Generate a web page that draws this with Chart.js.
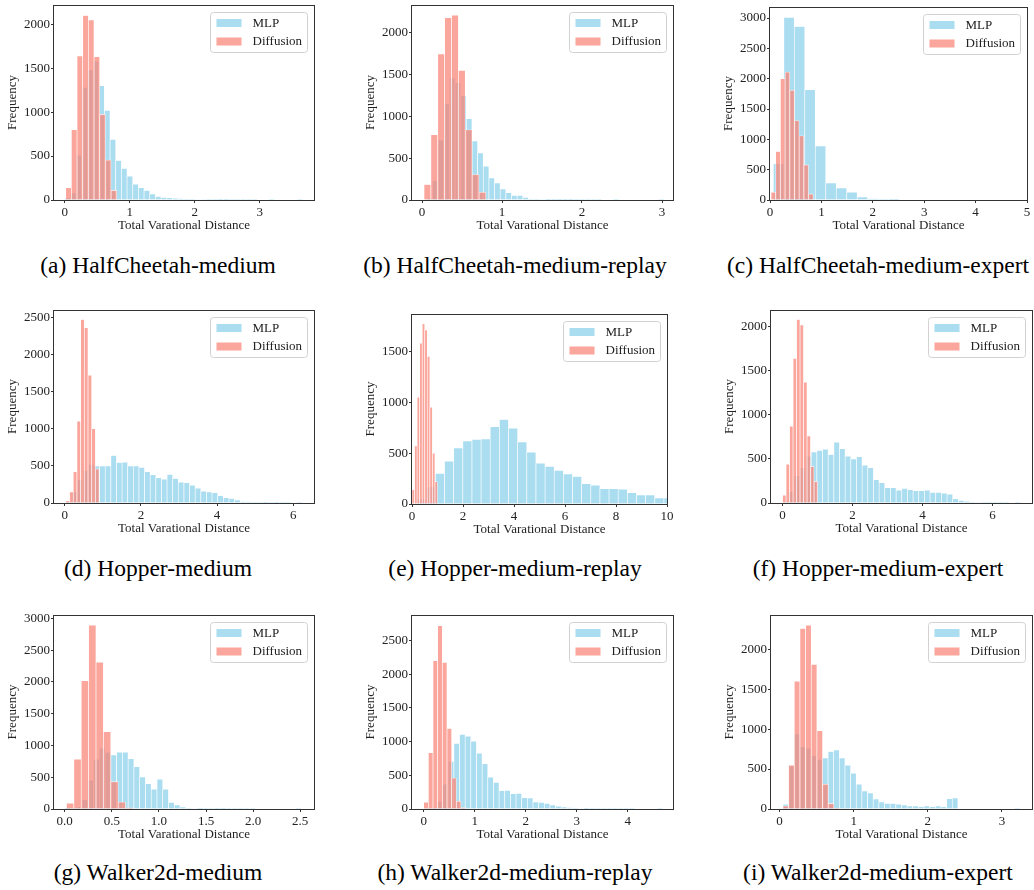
<!DOCTYPE html>
<html>
<head>
<meta charset="utf-8">
<script src="https://cdn.jsdelivr.net/npm/chart.js@4.4.1/dist/chart.umd.min.js"></script>
<style>
  body { margin: 0; background: #fff; width: 1034px; height: 890px; position: relative; overflow: hidden; }
  canvas { position: absolute; }
  .cap { position: absolute; font-family: "Liberation Serif", "Times New Roman", serif; font-size: 23.5px; line-height: 1; color: #000; transform: translateX(-50%); white-space: nowrap; }
</style>
</head>
<body>
<script>
// histogram counts, one array per task and policy
// bins: [first edge, bin width]
const hcMediumMlpBin = [0.0, 0.0872];
const hcMediumMlp = [20, 80, 510, 1280, 1480, 1580, 1300, 1020, 690, 450, 360, 270, 180, 140, 110, 70, 40, 30, 25, 20, 15, 10, 8, 6, 5, 4, 3, 2, 2, 1, 1, 1, 1, 1, 0, 0, 1, 0, 0, 0, 0, 1];
const hcMediumDiffBin = [0.015, 0.0872];
const hcMediumDiff = [140, 800, 1640, 2100, 2050, 1630, 975, 455, 110];

const hcReplayMlpBin = [0.06, 0.0706];
const hcReplayMlp = [20, 231, 718, 1148, 1459, 1403, 1248, 973, 706, 562, 403, 263, 203, 132, 88, 56, 56, 32, 12, 8, 5, 4, 3, 3, 2, 2, 1, 1, 1, 1, 1, 0, 0, 1, 0, 0, 0, 0, 0, 0, 0, 1];
const hcReplayDiffBin = [0.025, 0.086];
const hcReplayDiff = [185, 780, 1745, 2180, 2210, 1550, 840, 305, 92];

const hcExpertMlpBin = [0.065, 0.204];
const hcExpertMlp = [600, 3010, 2860, 1820, 890, 280, 200, 130, 50, 20, 5, 2];
const hcExpertDiffBin = [0.019, 0.0914];
const hcExpertDiff = [130, 800, 2000, 2110, 1810, 1310, 1060, 580, 100];

const hopMediumMlpBin = [0.03, 0.1476];
const hopMediumMlp = [10, 150, 310, 440, 520, 500, 500, 500, 640, 545, 550, 500, 500, 480, 420, 380, 340, 320, 385, 330, 280, 275, 240, 200, 160, 150, 140, 100, 70, 60, 40, 20, 15, 10, 8, 5, 3, 2, 1, 1, 0, 1];
const hopMediumDiffBin = [0.03, 0.097];
const hopMediumDiff = [30, 150, 420, 1100, 2470, 2360, 1720, 1000, 460];

const hopReplayMlpBin = [0.2, 0.3585];
const hopReplayMlp = [50, 170, 300, 420, 550, 620, 635, 640, 760, 830, 745, 610, 510, 400, 370, 330, 295, 270, 200, 185, 150, 150, 145, 110, 90, 90, 60, 60];
const hopReplayDiffBin = [0.0, 0.1];
const hopReplayDiff = [140, 570, 1050, 1580, 1770, 1710, 1450, 950, 500, 220];

const hopExpertMlpBin = [0.01, 0.1617];
const hopExpertMlp = [10, 130, 310, 400, 530, 580, 595, 610, 550, 690, 615, 530, 500, 525, 430, 400, 265, 230, 175, 175, 145, 165, 150, 140, 140, 145, 120, 120, 110, 100, 50, 30, 20, 10, 5, 3, 2, 1, 1, 1, 0, 1];
const hopExpertDiffBin = [0.0, 0.1];
const hopExpertDiff = [90, 440, 870, 1640, 2080, 2020, 1370, 760, 415, 245];

const wkMediumMlpBin = [0.0, 0.0612];
const wkMediumMlp = [5, 10, 32, 147, 452, 783, 956, 893, 851, 893, 893, 793, 667, 504, 399, 310, 468, 310, 105, 63, 32, 16, 8, 5, 4, 3, 2, 2, 1, 1, 1, 1, 1, 0, 0, 0, 0, 0, 0, 0, 1];
const wkMediumDiffBin = [0.018, 0.0785];
const wkMediumDiff = [90, 785, 2020, 2890, 2310, 1215, 430, 110, 20];

const wkReplayMlpBin = [0.038, 0.1108];
const wkReplayMlp = [3, 10, 114, 370, 707, 973, 1107, 1082, 1008, 830, 672, 474, 395, 272, 277, 227, 232, 168, 163, 104, 99, 84, 59, 40, 30, 20, 12, 8, 5, 4, 3, 2, 2, 1, 1, 1, 1, 0, 0, 0, 0, 1];
const wkReplayDiffBin = [0.0, 0.0915];
const wkReplayDiff = [100, 835, 2200, 2720, 2175, 1195, 460, 115, 20];

const wkExpertMlpBin = [0.044, 0.0762];
const wkExpertMlp = [60, 540, 940, 780, 760, 670, 620, 640, 720, 740, 640, 550, 450, 310, 225, 200, 125, 90, 70, 70, 60, 50, 40, 40, 30, 40, 30, 40, 30, 130, 140, 0, 0, 0, 0, 0, 0, 0, 0, 0, 0, 1];
const wkExpertDiffBin = [0.045, 0.0765];
const wkExpertDiff = [40, 550, 1600, 2260, 2300, 1810, 980, 310, 70, 10];

// axis ticks
const xTicksA = [0, 1, 2, 3];
const xTicksC = [0, 1, 2, 3, 4, 5];
const xTicksD = [0, 2, 4, 6];
const xTicksE = [0, 2, 4, 6, 8, 10];
const xTicksG = [0, 0.5, 1, 1.5, 2, 2.5];
const xTicksH = [0, 1, 2, 3, 4];
const yTicks2000 = [0, 500, 1000, 1500, 2000];
const yTicks2500 = [0, 500, 1000, 1500, 2000, 2500];
const yTicks3000 = [0, 500, 1000, 1500, 2000, 2500, 3000];
const yTicks1500 = [0, 500, 1000, 1500];

const seriesNames = ['MLP', 'Diffusion'];
const captions = [
  '(a) HalfCheetah-medium', '(b) HalfCheetah-medium-replay', '(c) HalfCheetah-medium-expert',
  '(d) Hopper-medium', '(e) Hopper-medium-replay', '(f) Hopper-medium-expert',
  '(g) Walker2d-medium', '(h) Walker2d-medium-replay', '(i) Walker2d-medium-expert'
];

const MLP_FILL = 'rgba(135, 206, 235, 0.7)';
const DIFF_FILL = 'rgba(250, 128, 114, 0.7)';
const AXIS = '#333';
const TEXT = '#222';
const FONT = { family: "'Liberation Serif', 'Times New Roman', serif", size: 13 };

// frame: [left, top, right, bottom] of the plot box on the page
const panels = [
  { frame: [54, 5, 314, 200], xr: [-0.165, 3.835], ymax: 2219, xt: xTicksA, yt: yTicks2000, dec: 0, mlp: hcMediumMlp, mb: hcMediumMlpBin, diff: hcMediumDiff, db: hcMediumDiffBin },
  { frame: [412, 5, 673, 200], xr: [-0.125, 3.1375], ymax: 2331, xt: xTicksA, yt: yTicks2000, dec: 0, mlp: hcReplayMlp, mb: hcReplayMlpBin, diff: hcReplayDiff, db: hcReplayDiffBin },
  { frame: [770, 7, 1027, 200], xr: [0, 5], ymax: 3182, xt: xTicksC, yt: yTicks3000, dec: 0, mlp: hcExpertMlp, mb: hcExpertMlpBin, diff: hcExpertDiff, db: hcExpertDiffBin },
  { frame: [54, 310, 314, 503], xr: [-0.281, 6.543], ymax: 2598, xt: xTicksD, yt: yTicks2500, dec: 0, mlp: hopMediumMlp, mb: hopMediumMlpBin, diff: hopMediumDiff, db: hopMediumDiffBin },
  { frame: [412, 314, 667, 504], xr: [0, 10], ymax: 1866, xt: xTicksE, yt: yTicks1500, dec: 0, mlp: hopReplayMlp, mb: hopReplayMlpBin, diff: hopReplayDiff, db: hopReplayDiffBin },
  { frame: [771, 310, 1032, 503], xr: [-0.33, 7.126], ymax: 2188, xt: xTicksD, yt: yTicks2000, dec: 0, mlp: hopExpertMlp, mb: hopExpertMlpBin, diff: hopExpertDiff, db: hopExpertDiffBin },
  { frame: [54, 615, 314, 809], xr: [-0.114, 2.646], ymax: 3052, xt: xTicksG, yt: yTicks3000, dec: 1, mlp: wkMediumMlp, mb: wkMediumMlpBin, diff: wkMediumDiff, db: wkMediumDiffBin },
  { frame: [412, 615, 673, 809], xr: [-0.229, 4.888], ymax: 2879, xt: xTicksH, yt: yTicks2500, dec: 0, mlp: wkReplayMlp, mb: wkReplayMlpBin, diff: wkReplayDiff, db: wkReplayDiffBin },
  { frame: [771, 615, 1032, 809], xr: [-0.116, 3.406], ymax: 2429, xt: xTicksA, yt: yTicks2000, dec: 0, mlp: wkExpertMlp, mb: wkExpertMlpBin, diff: wkExpertDiff, db: wkExpertDiffBin }
];
const captionPos = [[158, 254], [515, 254], [878, 254], [158, 557], [515, 557], [878, 557], [158, 861], [515, 861], [878, 861]];

const Y_W = 53, X_H = 35, PAD_T = 8, PAD_R = 8;

// bin centres from the bin edges
function toBars(bin, counts) {
  return counts.map((c, i) => ({ x: bin[0] + (i + 0.5) * bin[1], y: c }));
}

// box round the plot area
const frameBox = {
  id: 'frameBox',
  afterDatasetsDraw(chart) {
    const { ctx, chartArea: a } = chart;
    ctx.save();
    ctx.strokeStyle = AXIS;
    ctx.lineWidth = 1;
    ctx.strokeRect(Math.round(a.left) - 0.5, Math.round(a.top) + 0.5, Math.round(a.right - a.left) + 1, Math.round(a.bottom - a.top));
    ctx.restore();
  }
};

// legend in the upper right corner of the plot
const cornerLegend = {
  id: 'cornerLegend',
  afterDraw(chart) {
    const { ctx, chartArea: a } = chart;
    const w = 97, h = 40;
    const x = Math.round(a.right - 7 - w) + 0.5, y = Math.round(a.top + 7) + 0.5;
    ctx.save();
    ctx.fillStyle = 'rgba(255,255,255,0.8)';
    ctx.strokeStyle = '#d2d2d2';
    ctx.lineWidth = 1;
    ctx.beginPath();
    ctx.roundRect(x, y, w, h, 3);
    ctx.fill();
    ctx.stroke();
    const fills = [MLP_FILL, DIFF_FILL];
    ctx.font = '13px ' + FONT.family;
    ctx.textBaseline = 'middle';
    seriesNames.forEach((name, i) => {
      const cy = y + 10.5 + i * 18.5;
      ctx.fillStyle = fills[i];
      ctx.fillRect(x + 6, cy - 4, 25, 8);
      ctx.fillStyle = TEXT;
      ctx.fillText(name, x + 42, cy + 0.5);
    });
    ctx.restore();
  }
};

function fixTicks(list) {
  return scale => { scale.ticks = list.map(v => ({ value: v })); };
}

panels.forEach((p, k) => {
  const [fx, fy, fx2, fy2] = p.frame;
  const canvas = document.createElement('canvas');
  canvas.width = Y_W + (fx2 - fx) + PAD_R;
  canvas.height = PAD_T + (fy2 - fy) + X_H;
  canvas.style.left = (fx - Y_W) + 'px';
  canvas.style.top = (fy - PAD_T) + 'px';
  document.body.appendChild(canvas);

  const barStyle = {
    grouped: false,
    categoryPercentage: 1,
    barPercentage: 1,
    borderColor: 'rgba(255,255,255,0.8)',
    borderWidth: { left: 0.65, right: 0.65, top: 0.65, bottom: 0 },
    borderSkipped: false
  };

  new Chart(canvas.getContext('2d'), {
    type: 'bar',
    data: {
      datasets: [
        { label: seriesNames[0], data: toBars(p.mb, p.mlp), xAxisID: 'x', backgroundColor: MLP_FILL, order: 2, ...barStyle },
        { label: seriesNames[1], data: toBars(p.db, p.diff), xAxisID: 'x2', backgroundColor: DIFF_FILL, order: 1, ...barStyle }
      ]
    },
    options: {
      responsive: false,
      maintainAspectRatio: false,
      animation: false,
      devicePixelRatio: 1,
      layout: { padding: { top: PAD_T, right: PAD_R, left: 0, bottom: 0 } },
      plugins: { legend: { display: false }, tooltip: { enabled: false } },
      scales: {
        x: {
          type: 'linear',
          offset: false,
          min: p.xr[0],
          max: p.xr[1],
          afterBuildTicks: fixTicks(p.xt),
          afterFit: s => { s.height = X_H; s.paddingLeft = 0; s.paddingRight = 0; },
          grid: { offset: false, drawOnChartArea: false, tickLength: 3, color: AXIS },
          border: { display: false },
          ticks: { font: FONT, color: TEXT, padding: 2, maxRotation: 0, autoSkip: false, callback: v => v.toFixed(p.dec) },
          title: { display: true, text: 'Total Varational Distance', font: FONT, color: TEXT, padding: { top: 0, bottom: 2 } }
        },
        x2: {
          type: 'linear',
          display: false,
          offset: false,
          min: p.xr[0],
          max: p.xr[1],
          afterBuildTicks: fixTicks(p.xt)
        },
        y: {
          min: 0,
          max: p.ymax,
          afterBuildTicks: fixTicks(p.yt),
          afterFit: s => { s.width = Y_W; s.paddingTop = 0; s.paddingBottom = 0; },
          grid: { drawOnChartArea: false, tickLength: 3, color: AXIS },
          border: { display: false },
          ticks: { font: FONT, color: TEXT, padding: 1, autoSkip: false, callback: v => String(v) },
          title: { display: true, text: 'Frequency', font: FONT, color: TEXT, padding: { top: 4, bottom: 0 } }
        }
      }
    },
    plugins: [frameBox, cornerLegend]
  });

  const cap = document.createElement('div');
  cap.className = 'cap';
  cap.textContent = captions[k];
  cap.style.left = captionPos[k][0] + 'px';
  cap.style.top = captionPos[k][1] + 'px';
  document.body.appendChild(cap);
});
</script>
</body>
</html>
